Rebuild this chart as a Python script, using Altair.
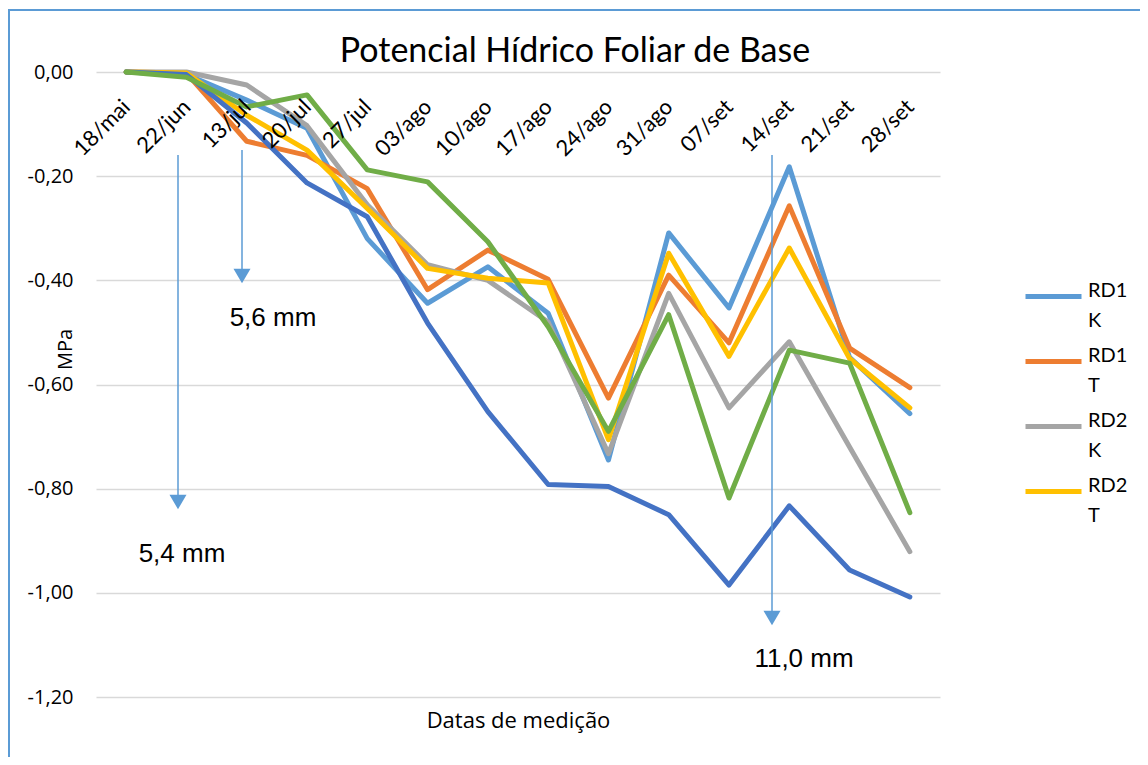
import altair as alt
import pandas as pd

dates = ["18/mai", "22/jun", "13/jul", "20/jul", "27/jul", "03/ago", "10/ago",
         "17/ago", "24/ago", "31/ago", "07/set", "14/set", "21/set", "28/set"]

rd1_k = [0, -0.005, -0.054, -0.108, -0.320, -0.444, -0.374, -0.463, -0.745, -0.309, -0.453, -0.182, -0.548, -0.656]
rd1_t = [0, -0.002, -0.133, -0.160, -0.224, -0.418, -0.342, -0.398, -0.626, -0.390, -0.520, -0.257, -0.530, -0.606]
rd2_k = [0, 0.000, -0.025, -0.103, -0.255, -0.370, -0.400, -0.480, -0.733, -0.425, -0.645, -0.518, -0.720, -0.921]
rd2_t = [0, -0.002, -0.083, -0.150, -0.262, -0.377, -0.396, -0.405, -0.706, -0.348, -0.546, -0.338, -0.550, -0.645]
serie5 = [0, -0.005, -0.098, -0.213, -0.278, -0.482, -0.652, -0.792, -0.796, -0.850, -0.985, -0.833, -0.956, -1.008]
serie6 = [0, -0.010, -0.067, -0.044, -0.188, -0.211, -0.326, -0.489, -0.690, -0.466, -0.818, -0.534, -0.559, -0.846]

series_names = ["RD1 K", "RD1 T", "RD2 K", "RD2 T", "Série5", "Série6"]
series_values = [rd1_k, rd1_t, rd2_k, rd2_t, serie5, serie6]
colors = ["#5B9BD5", "#ED7D31", "#A5A5A5", "#FFC000", "#4472C4", "#70AD47"]
legend_names = ["RD1 K", "RD1 T", "RD2 K", "RD2 T"]

y_ticks = [0, -0.2, -0.4, -0.6, -0.8, -1.0, -1.2]

chart_title = "Potencial Hídrico Foliar de Base"
ann_labels = ["5,4 mm", "5,6 mm", "11,0 mm"]

rows = []
for name, vals in zip(series_names, series_values):
    for d, v in zip(dates, vals):
        rows.append({"data": d, "serie": name, "MPa": v, "ordem": series_names.index(name)})
df = pd.DataFrame(rows)

W, H = 844, 625
LINE = "#5B9BD5"

lines = alt.Chart(df).mark_line(strokeWidth=5, strokeCap="round", strokeJoin="round").encode(
    x=alt.X("data:O", sort=dates,
            scale=alt.Scale(type="point", padding=0.5),
            axis=alt.Axis(orient="bottom", offset=-H, domain=False, ticks=False, grid=False, zindex=1,
                          labelAngle=315, labelAlign="right", labelBaseline="middle",
                          labelPadding=31, labelFont="Lato", labelFontSize=22, labelColor="#000000",
                          title="Datas de medição", titleFont="Open Sans", titleFontSize=22,
                          titleFontWeight="normal", titleColor="#000000",
                          titleX=W / 2, titleY=648, titleAlign="center", titleBaseline="middle")),
    y=alt.Y("MPa:Q", scale=alt.Scale(domain=[-1.2, 0], nice=False, zero=False),
            axis=alt.Axis(values=y_ticks, domain=False, ticks=False, grid=True,
                          gridColor="#D9D9D9", gridWidth=1.3,
                          labelExpr="(datum.value < -0.001 ? '-' : '') + replace(format(abs(datum.value), '.2f'), '.', ',')",
                          labelPadding=23, labelFont="Open Sans", labelFontSize=20, labelColor="#000000",
                          title="MPa", titleFont="Open Sans", titleFontSize=20, titleFontWeight="normal",
                          titleColor="#000000", titleAngle=270, titleX=-31, titleY=277,
                          titleAlign="center", titleBaseline="middle")),
    color=alt.Color("serie:N", scale=alt.Scale(domain=series_names, range=colors),
                    legend=alt.Legend(values=legend_names, title=None, orient="none",
                                      legendX=927, legendY=194, padding=0,
                                      symbolType="stroke", symbolSize=3136, symbolStrokeWidth=5,
                                      labelExpr="split(datum.label, ' ')",
                                      labelFont="Lato", labelFontSize=20, labelColor="#000000",
                                      labelBaseline="alphabetic", labelOffset=4, rowPadding=-7.5)),
    order=alt.Order("ordem:Q"),
    detail="serie:N",
)

one = pd.DataFrame({"k": [0]})

border = alt.Chart(one).mark_rect(filled=False, stroke=LINE, strokeWidth=2).encode(
    x=alt.value(-87), x2=alt.value(1100), y=alt.value(-62), y2=alt.value(800))

def arrow(xp, y1, y2):
    r = alt.Chart(one).mark_rule(color=LINE, strokeWidth=1.5).encode(
        x=alt.value(xp), y=alt.value(y1), y2=alt.value(y2))
    p = alt.Chart(one).mark_point(shape="triangle-down", filled=True, color=LINE, size=290, opacity=1).encode(
        x=alt.value(xp), y=alt.value(y2))
    return r + p

def label(txt, xp, yp, size=26, font="Liberation Sans", baseline="middle"):
    return alt.Chart(one).mark_text(text=txt, font=font, fontSize=size, color="#000000",
                                    align="center", baseline=baseline).encode(
        x=alt.value(xp), y=alt.value(yp))

chart = alt.layer(
    border,
    lines,
    arrow(82, 83, 430), arrow(146, 78, 204), arrow(676, 83, 546),
    label(ann_labels[0], 86, 482), label(ann_labels[1], 177, 246), label(ann_labels[2], 708, 587),
    label(chart_title, 479, -10, size=34, font="Lato", baseline="alphabetic"),
).properties(
    width=W, height=H,
    autosize=alt.AutoSizeParams(type="none"),
    padding={"left": 88, "top": 64, "right": 200, "bottom": 60},
).configure(
    background="white", style={"guide-label": {"lineHeight": 30}}
).configure_view(stroke=None)

chart.save("out.html", embed_options={"renderer": "svg", "actions": False})
